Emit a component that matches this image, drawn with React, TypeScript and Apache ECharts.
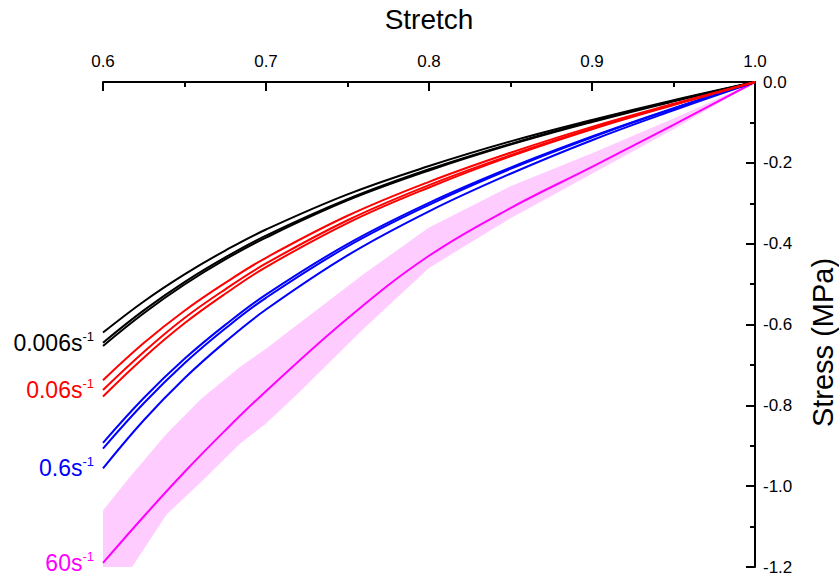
import React, { useEffect, useRef } from 'react';
import * as echarts from 'echarts';

// Stretch samples shared by all curves
const X = [0.6, 0.625, 0.65, 0.675, 0.7, 0.75, 0.8, 0.85, 0.9, 0.95, 1.0];

// 0.006 s^-1 (black)
const BLACK_1 = [-0.62, -0.543, -0.476, -0.417, -0.365, -0.278, -0.208, -0.147, -0.094, -0.045, 0];
const BLACK_2 = [-0.645, -0.565, -0.495, -0.434, -0.38, -0.29, -0.216, -0.153, -0.097, -0.047, 0];
const BLACK_3 = [-0.653, -0.572, -0.501, -0.439, -0.385, -0.293, -0.219, -0.155, -0.099, -0.048, 0];

// 0.06 s^-1 (red)
const RED_1 = [-0.738, -0.646, -0.566, -0.497, -0.435, -0.331, -0.247, -0.175, -0.111, -0.054, 0];
const RED_2 = [-0.762, -0.668, -0.584, -0.513, -0.449, -0.342, -0.255, -0.181, -0.115, -0.056, 0];
const RED_3 = [-0.778, -0.682, -0.597, -0.524, -0.458, -0.349, -0.261, -0.184, -0.117, -0.057, 0];

// 0.6 s^-1 (blue)
const BLUE_1 = [-0.893, -0.782, -0.685, -0.601, -0.526, -0.401, -0.299, -0.212, -0.135, -0.065, 0];
const BLUE_2 = [-0.907, -0.795, -0.696, -0.61, -0.534, -0.407, -0.304, -0.215, -0.137, -0.066, 0];
const BLUE_3 = [-0.956, -0.837, -0.733, -0.643, -0.563, -0.429, -0.32, -0.227, -0.144, -0.07, 0];

// 60 s^-1 (magenta mean line)
const MAG = [-1.19, -1.075, -0.965, -0.862, -0.765, -0.585, -0.43, -0.312, -0.21, -0.106, 0];

// 60 s^-1 scatter band
const BAND_X = [0.6, 0.617, 0.639, 0.66, 0.684, 0.7, 0.721, 0.76, 0.8, 0.85, 0.9, 0.95, 1.0];
const BAND_UPPER = [-1.06, -0.975, -0.87, -0.785, -0.705, -0.66, -0.595, -0.475, -0.36, -0.258, -0.176, -0.09, 0];
const BAND_LOWER = [-1.25, -1.205, -1.07, -0.99, -0.895, -0.845, -0.765, -0.61, -0.46, -0.337, -0.227, -0.117, 0];

const X_TICKS = [0.6, 0.7, 0.8, 0.9, 1.0];

// Strain-rate labels, anchored at the left end of one curve of each group
const RATE_LABELS = ['0.006s', '0.06s', '0.6s', '60s'];
const RATE_COLORS = ['#000000', '#FF0000', '#0000FF', '#FF00FF'];
const RATE_ANCHORS = [
  [X[0], BLACK_2[0]],
  [X[0], RED_2[0]],
  [X[0], BLUE_3[0]],
  [X[0], MAG[0]],
];

const FONT = 'Arial, "Liberation Sans", sans-serif';

function pts(xs: number[], ys: number[]) {
  return xs.map((x, i) => [x, ys[i]]);
}

function line(data: any[], color: string) {
  return {
    type: 'line',
    data,
    smooth: 0.4,
    symbol: 'none',
    lineStyle: { color, width: 2 },
    emphasis: { disabled: true },
    silent: true,
  };
}

export default function App() {
  const ref = useRef<HTMLDivElement>(null);
  useEffect(() => {
    if (!ref.current) return;
    const chart = echarts.init(ref.current, undefined, { renderer: 'svg' });
    const axisText = { color: '#000', fontSize: 17, fontFamily: FONT };
    chart.setOption({
      animation: false,
      grid: { left: 103, right: 84, top: 82, bottom: 12, containLabel: false, outerBoundsMode: 'none' },
      xAxis: {
        type: 'value',
        position: 'top',
        min: 0.6,
        max: 1.0,
        interval: 0.1,
        name: 'Stretch',
        nameLocation: 'middle',
        nameGap: 49,
        nameTextStyle: { color: '#000', fontSize: 28, fontFamily: FONT },
        axisLine: { show: true, onZero: false, lineStyle: { color: '#000', width: 2 } },
        axisTick: { show: true, inside: true, length: 9, lineStyle: { color: '#000', width: 2 } },
        minorTick: { show: true, splitNumber: 2, length: 5, lineStyle: { color: '#000', width: 2 } },
        axisLabel: {
          ...axisText,
          margin: 12,
          formatter: (v: number) => (X_TICKS.some((t) => Math.abs(t - v) < 1e-6) ? v.toFixed(1) : ''),
        },
        splitLine: { show: false },
      },
      yAxis: {
        type: 'value',
        position: 'right',
        min: -1.2,
        max: 0,
        interval: 0.2,
        name: 'Stress (MPa)',
        nameLocation: 'middle',
        nameGap: 53,
        nameTextStyle: { color: '#000', fontSize: 29, fontFamily: FONT, padding: [0, 36, 0, 0] },
        axisLine: { show: true, onZero: false, lineStyle: { color: '#000', width: 2 } },
        axisTick: { show: true, inside: true, length: 9, lineStyle: { color: '#000', width: 2 } },
        minorTick: { show: true, splitNumber: 2, length: 5, lineStyle: { color: '#000', width: 2 } },
        axisLabel: { ...axisText, margin: 8, formatter: (v: number) => (Math.abs(v) < 1e-9 ? '0.0' : v.toFixed(1)) },
        splitLine: { show: false },
      },
      series: [
        {
          type: 'custom',
          clip: true,
          silent: true,
          data: [[0.8, -0.4]],
          renderItem: (_params: any, api: any) => {
            const top = BAND_X.map((x, i) => api.coord([x, BAND_UPPER[i]]));
            const bottom = BAND_X.map((x, i) => api.coord([x, BAND_LOWER[i]])).reverse();
            return {
              type: 'polygon',
              shape: { points: top.concat(bottom) },
              style: { fill: '#FFCCFF', stroke: 'none' },
            };
          },
        },
        line(pts(X, MAG), '#FF00FF'),
        line(pts(X, BLUE_1), '#0000FF'),
        line(pts(X, BLUE_2), '#0000FF'),
        line(pts(X, BLUE_3), '#0000FF'),
        line(pts(X, BLACK_1), '#000000'),
        line(pts(X, BLACK_2), '#000000'),
        line(pts(X, BLACK_3), '#000000'),
        line(pts(X, RED_1), '#FF0000'),
        line(pts(X, RED_2), '#FF0000'),
        line(pts(X, RED_3), '#FF0000'),
        {
          type: 'scatter',
          silent: true,
          clip: false,
          symbol: 'circle',
          symbolSize: 0,
          itemStyle: { color: '#000', opacity: 1 },
          data: RATE_ANCHORS.map((p, i) => ({
            value: p,
            label: {
              show: true,
              position: 'left',
              distance: 9,
              opacity: 1,
              formatter: '{m|' + RATE_LABELS[i] + '}{s|-1}',
              rich: {
                m: { fontSize: 23, color: RATE_COLORS[i], fontFamily: FONT, lineHeight: 26, opacity: 1 },
                s: { fontSize: 13, color: RATE_COLORS[i], fontFamily: FONT, lineHeight: 13, verticalAlign: 'top', opacity: 1 },
              },
            },
          })),
        },
      ],
    });
    return () => chart.dispose();
  }, []);
  return (
    <div
      ref={ref}
      style={{ position: 'fixed', left: 0, top: 0, width: 839, height: 579, background: '#fff' }}
    />
  );
}
